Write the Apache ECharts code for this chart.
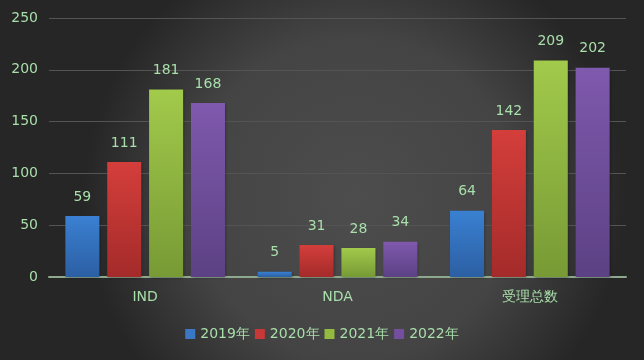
<!DOCTYPE html>
<html><head><meta charset="utf-8">
<script src="https://cdn.jsdelivr.net/npm/echarts@6/dist/echarts.min.js"></script>
<style>html,body{margin:0;padding:0;}#c{width:644px;height:360px;}</style>
</head><body><div id="c"></div>
<script>
const categories = ['IND', 'NDA', '受理总数'];
const seriesNames = ['2019年', '2020年', '2021年', '2022年'];
const v2019 = [59, 5, 64];
const v2020 = [111, 31, 142];
const v2021 = [181, 28, 209];
const v2022 = [168, 34, 202];
const yTicks = [0, 50, 100, 150, 200, 250];

const values = [v2019, v2020, v2021, v2022];
const colors = [['#3a80d2', '#2c5fa3'], ['#d43e3b', '#a42b2a'], ['#a2ca4b', '#779a35'], ['#7f59ad', '#5c4184']];
const legendColors = ['#3a78c6', '#c83836', '#92bb40', '#744f9f'];
const txt = '#a9dfab';
const font = 'DejaVu Sans';

const chart = echarts.init(document.getElementById('c'));
chart.setOption({
  backgroundColor: {
    type: 'radial', x: 0.55, y: 0.55, r: 0.75,
    colorStops: [{offset: 0, color: '#4d4d4d'}, {offset: 0.6, color: '#444444'}, {offset: 1, color: '#262626'}]
  },
  animation: false,
  textStyle: {fontFamily: font},
  grid: {left: 49, right: 18, top: 18, bottom: 83},
  legend: {
    bottom: 14, left: 'center', itemWidth: 10, itemHeight: 10, itemGap: 5,
    textStyle: {color: txt, fontSize: 14, fontFamily: font},
    data: seriesNames.map((n, i) => ({name: n, icon: 'rect', itemStyle: {color: legendColors[i]}}))
  },
  xAxis: {
    type: 'category', data: categories,
    axisLine: {lineStyle: {color: '#8ea88e', width: 2}},
    axisTick: {show: false},
    axisLabel: {color: txt, fontSize: 14, margin: 13, fontFamily: font}
  },
  yAxis: {
    type: 'value', min: yTicks[0], max: yTicks[yTicks.length - 1], interval: 50,
    axisLine: {show: false}, axisTick: {show: false},
    axisLabel: {color: txt, fontSize: 14, margin: 11, fontFamily: font},
    splitLine: {lineStyle: {color: '#545454', width: 1}}
  },
  series: values.map((d, i) => ({
    name: seriesNames[i], type: 'bar', data: d,
    barGap: '23%', barCategoryGap: '17%',
    itemStyle: {
      color: {type: 'linear', x: 0, y: 0, x2: 0, y2: 1,
        colorStops: [{offset: 0, color: colors[i][0]}, {offset: 1, color: colors[i][1]}]},
      shadowColor: 'rgba(0,0,0,0.35)', shadowBlur: 3, shadowOffsetX: 1, shadowOffsetY: 1
    },
    label: {show: true, position: 'top', distance: 12, color: txt, fontSize: 14, fontFamily: font}
  }))
});
</script></body></html>
